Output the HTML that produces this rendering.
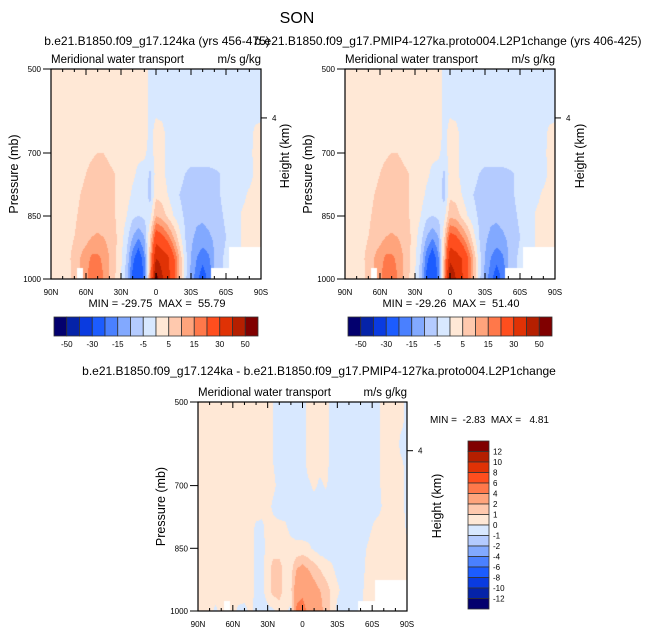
<!DOCTYPE html>
<html><head><meta charset="utf-8">
<style>
html,body{margin:0;padding:0;background:#fff;}
#wrap{position:relative;width:648px;height:634px;overflow:hidden;font-family:"Liberation Sans",Arial,sans-serif;}
canvas{position:absolute;}
svg{position:absolute;left:0;top:0;}
text{white-space:pre;}
</style></head>
<body>
<div id="wrap">
<canvas id="c1" width="210" height="210" style="left:51px;top:69px"></canvas>
<canvas id="c2" width="210" height="210" style="left:345px;top:69px"></canvas>
<canvas id="c3" width="209" height="209" style="left:198px;top:402px"></canvas>
<svg id="ov" width="648" height="634"></svg>
</div>
<script>
// Latitudes 90N..90S every 5 deg (37 columns); pressures 500..1000 every 50 mb (11 rows)
const latLabels = ['90N','60N','30N','0','30S','60S','90S'];
const pressureTicks = [500,700,850,1000];
const levelsFull = [-50,-40,-30,-20,-15,-10,-5,0,5,10,15,20,30,40,50];
const levelsDiff = [-12,-10,-8,-6,-4,-2,-1,0,1,2,4,6,8,10,12];
const fullBarLabels = ['-50','-30','-15','-5','5','15','30','50'];
const diffBarLabels = ['-12','-10','-8','-6','-4','-2','-1','0','1','2','4','6','8','10','12'];
const N=null;
const field124 = [
[2,2,2,2,2,2,2,2,2,2,2,2,2,2,2,2,2,-1,-2,-2,-2,-2,-2,-2,-2,-2,-2,-2,-2,-2,-2,-2,-2,-2,-2,-2,-1],
[2,2,2,2,2,2,2,2,2,2,2,2,2,2,2,2,2,-1,-2,-2,-2,-2,-2,-2,-2,-2,-2,-2,-2,-2,-2,-2,-2,-2,-2,-2,-1],
[2,2,2,2,2,2,2,2,2,2,2,2,2,2,2,2,2,-1,-0.5,-1,-2,-2,-2,-2,-2,-2,-2,-2,-2,-2,-2,-2,-2,-2,-2,-2,-1],
[2,2,2,2,2,2,2,2,2,3,3,2,2,2,2,2,2,-1,1,1,-1,-2,-2,-2,-2,-2,-2,-2,-2,-2,-2,-2,-2,-2,-2,1,1],
[2,2,2,2,2,3,4,4.5,5,5,4,3,2,2,1,1,1,-2,2,1,-1,-2,-2,-3,-3,-3,-3,-3,-2,-2,-2,-2,-2,-2,-1,1,1],
[2,2,2,2,2,4,5,6,7,7,6,5,3,2,1,-1,-2,-6,2,1,-1,-3,-3,-5,-6,-6,-6,-6,-6,-5,-3,-2,-2,-2,-2,1,2],
[2,2,2,2,3,5,6,7,7,7,6,5,4,2,-1,-3,-2,-7,4,3,0,-3,-5,-7,-8,-8,-8,-7,-6,-5,-3,-2,-1,-1,1,2,2],
[2,2,2,2,4,6,7,8,8,7,6,5,3,0,-4,-5,-4,-2,10,8,4,0,-3,-6,-8,-9,-9,-8,-7,-6,-4,-2,-1,1,2,2,1],
[2,2,1,3,5,7,8,10,10.5,10,8,6,2,-3,-10,-14,-10,5,25,22,17,10,2,-5,-9,-11,-12,-11,-9,-7,-5,-3,-1,1,3,3,2],
[1,2,3,4,7,10,13,16,16,14,10,6,1,-6,-18,-25,-16,10,40,36,32,22,10,-3,-10,-15,-18,-16,-10,-6,-4,N,N,N,N,N,N],
[1,2,3,4,6,N,14,18,18,15,10,5,0,-8,-22,-30,-18,15,55,42,34,24,10,-3,-12,-18,-24,-18,N,N,N,N,N,N,N,N,N]
];
const field127 = [
[2,2,2,2,2,2,2,2,2,2,2,2,2,2,2,2,2,-1,-2,-2,-2,-2,-2,-2,-2,-2,-2,-2,-2,-2,-2,-2,-2,-2,-2,-2,-1],
[2,2,2,2,2,2,2,2,2,2,2,2,2,2,2,2,2,-1,-2,-2,-2,-2,-2,-2,-2,-2,-2,-2,-2,-2,-2,-2,-2,-2,-2,-2,-1],
[2,2,2,2,2,2,2,2,2,2,2,2,2,2,2,2,2,-1,-0.5,-1,-2,-2,-2,-2,-2,-2,-2,-2,-2,-2,-2,-2,-2,-2,-2,-2,-1],
[2,2,2,2,2,2,2,2,2,3,3,2,2,2,2,2,2,-1,1,1,-1,-2,-2,-2,-2,-2,-2,-2,-2,-2,-2,-2,-2,-2,-2,1,1],
[2,2,2,2,2,3,4,4.5,5,5,4,3,2,2,1,1,1,-2,2,1,-1,-2,-2,-3,-3,-3,-3,-3,-2,-2,-2,-2,-2,-2,-1,1,1],
[2,2,2,2,2,4,5,6,7,7,6,5,3,2,1,-1,-2,-6,2,1,-1,-3,-3,-5,-6,-6,-6,-6,-6,-5,-3,-2,-2,-2,-2,1,2],
[2,2,2,2,3,5,6,7,7,7,6,5,4,2,-1,-3,-2,-7,4,3,0,-3,-5,-7,-8,-8,-8,-7,-6,-5,-3,-2,-1,-1,1,2,2],
[2,2,2,2,4,6,7,8,8,7,6,5,3,0,-4,-5,-4,-2,9,8,4,0,-3,-6,-8,-9,-9,-8,-7,-6,-4,-2,-1,1,2,2,1],
[2,2,1,3,5,7,8,10,10.5,10,8,6,2,-3,-10,-14,-10,4,23,21,16,10,2,-5,-9,-11,-12,-11,-9,-7,-5,-3,-1,1,3,3,2],
[1,2,3,4,7,10,13,16,16,14,10,6,1,-6,-18,-25,-16,8,37,34,30,21,10,-3,-10,-15,-18,-16,-10,-6,-4,N,N,N,N,N,N],
[1,2,3,4,6,N,14,18,18,15,10,5,0,-8,-22,-29,-18,12,51,40,32,22,10,-3,-12,-18,-24,-18,N,N,N,N,N,N,N,N,N]
];
const fieldDiff = [
[0.5,0.5,0.5,0.5,0.5,0.5,0.5,0.5,0.5,0.5,0.5,0.5,0.5,0,-0.5,-0.5,-0.5,-0.5,-0.5,0.3,0.5,0.5,0.5,-0.3,-0.5,-0.5,-0.5,-0.5,-0.5,-0.5,-0.5,-0.2,0.5,0.5,0.5,0.2,-0.3],
[0.5,0.5,0.5,0.5,0.5,0.5,0.5,0.5,0.5,0.5,0.5,0.5,0.5,0,-0.5,-0.5,-0.5,-0.5,-0.5,0.3,0.5,0.5,0.5,-0.3,-0.5,-0.5,-0.5,-0.5,-0.5,-0.5,-0.5,-0.2,0.5,0.5,0.5,0.2,-0.3],
[0.5,0.5,0.5,0.5,0.5,0.5,0.5,0.5,0.5,0.5,0.5,0.5,0.5,0,-0.5,-0.5,-0.5,-0.5,-0.5,0.3,0.5,0.5,0.5,-0.3,-0.5,-0.5,-0.5,-0.5,-0.5,-0.5,-0.5,-0.2,0.5,0.5,0.5,-0.3,-0.3],
[0.5,0.5,0.5,0.5,0.5,0.5,0.5,0.5,0.5,0.5,0.5,0.5,0.5,0,-0.5,-0.5,-0.5,-0.5,-0.5,0.3,0.3,0.3,0.3,-0.3,-0.5,-0.5,-0.5,-0.5,-0.5,-0.5,-0.5,-0.2,0.5,0.5,0.5,0.2,-0.3],
[0.5,0.5,0.5,0.5,0.5,0.5,0.5,0.5,0.5,0.5,0.5,0.5,0.5,0.2,-0.3,-0.5,-0.5,-0.5,-0.5,-0.2,0.2,-0.2,0.1,-0.3,-0.5,-0.5,-0.5,-0.5,-0.5,-0.5,-0.5,-0.2,0.3,0.5,0.5,0.3,-0.3],
[0.5,0.5,0.5,0.5,0.5,0.5,0.5,0.5,0.5,0.5,0.5,0.3,0.3,-0.2,-0.5,-0.5,-0.5,-0.5,-0.5,-0.5,-0.5,-0.5,-0.5,-0.5,-0.5,-0.5,-0.5,-0.5,-0.5,-0.5,-0.5,-0.5,0.3,0.5,0.5,0.3,-0.3],
[0.5,0.5,0.5,0.5,0.5,0.5,0.5,0.5,0.3,0.5,-0.2,-0.2,0.3,0.3,0.3,0.2,-0.3,-0.5,-0.5,-0.5,-0.5,-0.5,-0.5,-0.5,-0.5,-0.5,-0.5,-0.5,-0.5,-0.5,0,0.5,0.5,0.5,0.5,0.5,-0.2],
[0.5,0.5,0.5,0.5,0.5,0.5,0.5,0.5,0.5,0.5,-0.3,-0.3,0.3,0.5,0.5,0.5,0.4,0.3,0.3,0.2,-0.2,-0.5,-0.5,-0.5,-0.5,-0.5,-0.5,-0.5,-0.5,0,0.5,0.5,0.5,0.5,0.5,0.5,0.3],
[0.5,0.5,0.5,0.5,0.5,0.5,0.5,0.5,0.5,0.5,-0.3,-0.3,0.5,1.5,1.5,0.5,0.6,2,2.5,2,1.5,1,0.5,0.2,-0.3,-0.5,-0.5,-0.5,-0.5,0.2,0.5,0.5,0.5,0.5,0.5,0.5,0.3],
[0.5,0.5,0.5,0.5,0.5,0.5,0.5,0.5,0.5,0.5,-0.3,-0.3,0.5,1.5,1.5,0.5,0.8,3,3.5,3,2.5,2,1.5,0.8,0.2,-0.3,-0.5,-0.5,-0.3,0.3,0.5,N,N,N,N,N,N],
[0.3,0.3,0.3,-0.2,0.3,N,0.3,-0.2,-0.3,0.2,-0.3,-0.3,-0.3,-0.2,0.5,0.3,-0.3,4.5,4.8,3.5,3,2.5,1.5,0.8,-0.3,-0.5,-0.5,-0.5,N,N,N,N,N,N,N,N,N]
];
const palette = ['#03006e','#0523a8','#0a3be0','#1c5cff','#4a80ff','#82a9ff','#b4cbff','#d8e8ff','#ffe8d6','#ffc9ae','#ffa47c','#ff784a','#ff4e1e','#e03205','#b51f00','#800000'];

function hex(c){return [parseInt(c.substr(1,2),16),parseInt(c.substr(3,2),16),parseInt(c.substr(5,2),16)];}
const pal = palette.map(hex);
function colorIdx(v,levels){let k=0;while(k<levels.length&&v>=levels[k])k++;return k;}
function drawField(id,data,levels){
  const cv=document.getElementById(id),ctx=cv.getContext('2d');
  const W=cv.width,H=cv.height,img=ctx.createImageData(W,H);
  const nx=data[0].length,ny=data.length;
  for(let y=0;y<H;y++){
    const fj=(y+0.5)/H*(ny-1);
    for(let x=0;x<W;x++){
      const fi=(x+0.5)/W*(nx-1);
      const o=(y*W+x)*4;
      if(data[Math.round(fj)][Math.round(fi)]===null){img.data[o]=255;img.data[o+1]=255;img.data[o+2]=255;img.data[o+3]=255;continue;}
      const i0=Math.min(Math.floor(fi),nx-2),j0=Math.min(Math.floor(fj),ny-2);
      const tx=fi-i0,ty=fj-j0;
      const pts=[[data[j0][i0],(1-tx)*(1-ty)],[data[j0][i0+1],tx*(1-ty)],[data[j0+1][i0],(1-tx)*ty],[data[j0+1][i0+1],tx*ty]];
      let s=0,w=0;for(const p of pts){if(p[0]!==null){s+=p[0]*p[1];w+=p[1];}}
      const v=w>0?s/w:0;
      const c=pal[colorIdx(v,levels)];
      img.data[o]=c[0];img.data[o+1]=c[1];img.data[o+2]=c[2];img.data[o+3]=255;
    }
  }
  ctx.putImageData(img,0,0);
}
drawField('c1',field124,levelsFull);
drawField('c2',field127,levelsFull);
drawField('c3',fieldDiff,levelsDiff);

const NS='http://www.w3.org/2000/svg';
const ov=document.getElementById('ov');
function el(tag,attrs,parent){const e=document.createElementNS(NS,tag);for(const k in attrs)e.setAttribute(k,attrs[k]);(parent||ov).appendChild(e);return e;}
function txt(x,y,s,size,anchor,name,extra){
  const t=el('text',Object.assign({x:x,y:y,'font-size':size,'text-anchor':anchor||'start',fill:'#000','font-family':'Liberation Sans, Arial, sans-serif'},extra||{}));
  t.textContent=s;
  
  
  return t;
}
function panel(x0,y0,W,H,prefix){
  const g=el('g',{});
  
  
  const xs=d=>x0+d/180*W, ys=p=>y0+(p-500)/500*H;
  el('rect',{x:x0,y:y0,width:W,height:H,fill:'none',stroke:'#000','stroke-width':1.2},g);
  for(let d=0;d<=180;d+=10){
    const len=(d%30===0)?6:3;
    el('line',{x1:xs(d),x2:xs(d),y1:y0,y2:y0+len,stroke:'#000','stroke-width':1},g);
    el('line',{x1:xs(d),x2:xs(d),y1:y0+H,y2:y0+H-len,stroke:'#000','stroke-width':1},g);
  }
  latLabels.forEach((s,k)=>{txt(xs(k*30),y0+H+16,s,8,'middle','x-tick-label');});
  pressureTicks.forEach(p=>{
    el('line',{x1:x0-8,x2:x0,y1:ys(p),y2:ys(p),stroke:'#000','stroke-width':1},g);
    txt(x0-10,ys(p)+3,String(p),8,'end','y-tick-label');
  });
  el('line',{x1:x0+W,x2:x0+W+6,y1:y0+H*0.233,y2:y0+H*0.233,stroke:'#000','stroke-width':1},g);
  txt(x0+W+11,y0+H*0.233+3,'4',8,'start','height-tick-label');
  txt(x0,y0-6,'Meridional water transport',11.5,'start','panel-left-title');
  txt(x0+W,y0-6,'m/s g/kg',11.5,'end','units-label');
  txt(x0-33,y0+H/2,'Pressure (mb)',12.5,'middle','y-axis-title',{transform:'rotate(-90 '+(x0-33)+' '+(y0+H/2)+')'});
  return {xs,ys};
}
panel(51,69,210,210,'panel-124ka');
panel(345,69,210,210,'panel-127ka');
panel(198,402,209,209,'panel-diff');
txt(289,156,'Height (km)',12.5,'middle','right-axis-title',{transform:'rotate(-90 289 156)'});
txt(584,156,'Height (km)',12.5,'middle','right-axis-title',{transform:'rotate(-90 584 156)'});
txt(441,506,'Height (km)',12.5,'middle','right-axis-title',{transform:'rotate(-90 441 506)'});

txt(297,23,'SON',16,'middle','figure-title');
txt(157,45,'b.e21.B1850.f09_g17.124ka (yrs 456-475)',12,'middle','left-title');
txt(448,45,'b.e21.B1850.f09_g17.PMIP4-127ka.proto004.L2P1change (yrs 406-425)',12,'middle','right-title');
txt(319,375,'b.e21.B1850.f09_g17.124ka - b.e21.B1850.f09_g17.PMIP4-127ka.proto004.L2P1change',12,'middle','diff-title');
txt(157,307,'MIN = -29.75  MAX =  55.79',11,'middle','min-max-124ka');
txt(451,307,'MIN = -29.26  MAX =  51.40',11,'middle','min-max-127ka');
txt(430,423,'MIN =  -2.83  MAX =   4.81',10,'start','min-max-diff');

function hbar(x0,y0,W,H,name){
  const g=el('g',{});
  
  
  const bw=W/palette.length;
  palette.forEach((c,k)=>{el('rect',{x:x0+k*bw,y:y0,width:bw,height:H,fill:c,stroke:'#333','stroke-width':0.8},g);});
  fullBarLabels.forEach((s,k)=>{txt(x0+(2*k+1)*bw,y0+H+11,s,8,'middle','colorbar-label');});
}
hbar(54,317,204,19,'colorbar-124ka');
hbar(348,317,204,19,'colorbar-127ka');
(function(){
  const x0=468,y0=441,W=21,H=168,bh=H/palette.length;
  const g=el('g',{});
  
  
  palette.slice().reverse().forEach((c,k)=>{el('rect',{x:x0,y:y0+k*bh,width:W,height:bh,fill:c,stroke:'#333','stroke-width':0.8},g);});
  diffBarLabels.slice().reverse().forEach((s,k)=>{txt(x0+W+4,y0+(k+1)*bh+3,s,8,'start','colorbar-label');});
})();
</script>
</body></html>
